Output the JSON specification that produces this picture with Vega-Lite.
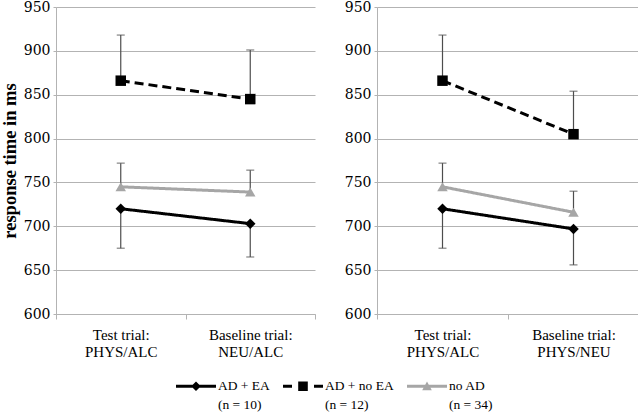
{
  "$schema": "https://vega.github.io/schema/vega-lite/v6.json",
  "background": "white",
  "padding": {"left": 0, "top": 0, "right": 2, "bottom": 0},
  "data": {"values": [
    {"panel": "A", "trial": "Test trial: PHYS/ALC", "group": "AD + EA (n = 10)", "rt": 720, "bound": 675},
    {"panel": "A", "trial": "Test trial: PHYS/ALC", "group": "AD + no EA (n = 12)", "rt": 866, "bound": 918},
    {"panel": "A", "trial": "Test trial: PHYS/ALC", "group": "no AD (n = 34)", "rt": 745, "bound": 772},
    {"panel": "A", "trial": "Baseline trial: NEU/ALC", "group": "AD + EA (n = 10)", "rt": 703, "bound": 665},
    {"panel": "A", "trial": "Baseline trial: NEU/ALC", "group": "AD + no EA (n = 12)", "rt": 845, "bound": 901},
    {"panel": "A", "trial": "Baseline trial: NEU/ALC", "group": "no AD (n = 34)", "rt": 739, "bound": 764},
    {"panel": "B", "trial": "Test trial: PHYS/ALC", "group": "AD + EA (n = 10)", "rt": 720, "bound": 675},
    {"panel": "B", "trial": "Test trial: PHYS/ALC", "group": "AD + no EA (n = 12)", "rt": 866, "bound": 918},
    {"panel": "B", "trial": "Test trial: PHYS/ALC", "group": "no AD (n = 34)", "rt": 745, "bound": 772},
    {"panel": "B", "trial": "Baseline trial: PHYS/NEU", "group": "AD + EA (n = 10)", "rt": 697, "bound": 656},
    {"panel": "B", "trial": "Baseline trial: PHYS/NEU", "group": "AD + no EA (n = 12)", "rt": 805, "bound": 854},
    {"panel": "B", "trial": "Baseline trial: PHYS/NEU", "group": "no AD (n = 34)", "rt": 716, "bound": 740}
  ]},
  "spacing": 28,
  "hconcat": [
    {
      "width": 259, "height": 307,
      "transform": [{"filter": "datum.panel === 'A'"}],
      "encoding": {
        "x": {"field": "trial", "type": "nominal", "sort": null, "title": null,
              "scale": {"paddingInner": 0, "paddingOuter": 0},
              "axis": {"labelAngle": 0, "tickBand": "extent", "labelFont": "Liberation Serif", "labelExpr": "datum.label ? [split(datum.label, ' ')[0] + ' ' + split(datum.label, ' ')[1], split(datum.label, ' ')[2]] : ''"}}
      },
      "layer": [
        {"mark": {"type": "line", "strokeWidth": 3},
         "encoding": {
           "y": {"field": "rt", "type": "quantitative", "title": "response time in ms",
                 "scale": {"domain": [600, 950], "nice": false, "zero": false},
                 "axis": {"values": [600, 650, 700, 750, 800, 850, 900, 950], "labelFont": "DejaVu Serif", "titleFont": "Liberation Serif"}},
           "color": {"field": "group", "type": "nominal", "scale": {"range": ["#000000", "#000000", "#a6a6a6"]},
             "legend": {
               "title": null, "orient": "none", "direction": "horizontal", "legendX": 120, "legendY": 359,
               "labelFont": "Liberation Serif", "labelFontSize": 13.5, "labelColor": "#000000",
               "symbolSize": 1600, "labelOffset": 2, "columnPadding": 13,
               "labelExpr": "[slice(datum.label, 0, indexof(datum.label, ' (')), slice(datum.label, indexof(datum.label, ' (') + 1)]",
               "encode": {
                 "symbols": {"update": {
                   "shape": {"signal": "indexof(datum.value, 'AD + EA') === 0 ? 'M-1,-0.075H1V0.075H-1Z M0,-0.24L0.24,0L0,0.24L-0.24,0Z' : indexof(datum.value, 'AD + no EA') === 0 ? 'M-1,-0.075H-0.55V0.075H-1Z M-0.24,-0.24H0.24V0.24H-0.24Z M0.55,-0.075H1V0.075H0.55Z' : 'M-1,-0.075H1V0.075H-1Z M0,-0.24L0.24,0.2L-0.24,0.2Z'"},
                   "fill": {"signal": "indexof(datum.value, 'no AD') === 0 ? '#a6a6a6' : '#000000'"},
                   "stroke": {"value": "transparent"},
                   "strokeWidth": {"value": 0},
                   "opacity": {"value": 1}
                 }},
                 "labels": {"update": {"lineHeight": {"value": 19}}}
               }
             }},
           "strokeDash": {"field": "group", "type": "nominal", "legend": null, "scale": {"range": [[1, 0], [9, 5], [1, 0]]}}
         }},
        {"mark": {"type": "rule", "color": "#4d4d4d", "strokeWidth": 1.2},
         "encoding": {"y": {"field": "rt", "type": "quantitative"}, "y2": {"field": "bound"}}},
        {"mark": {"type": "tick", "color": "#4d4d4d", "thickness": 1.2, "size": 8},
         "encoding": {"y": {"field": "bound", "type": "quantitative"}}},
        {"mark": {"type": "point", "filled": true, "opacity": 1, "size": 110},
         "encoding": {
           "y": {"field": "rt", "type": "quantitative"},
           "color": {"field": "group", "type": "nominal"},
           "shape": {"field": "group", "type": "nominal", "legend": null, "scale": {"range": ["diamond", "square", "triangle-up"]}}
         }}
      ]
    },
    {
      "width": 262, "height": 307,
      "transform": [{"filter": "datum.panel === 'B'"}],
      "encoding": {
        "x": {"field": "trial", "type": "nominal", "sort": null, "title": null,
              "scale": {"paddingInner": 0, "paddingOuter": 0},
              "axis": {"labelAngle": 0, "tickBand": "extent", "labelFont": "Liberation Serif", "labelExpr": "datum.label ? [split(datum.label, ' ')[0] + ' ' + split(datum.label, ' ')[1], split(datum.label, ' ')[2]] : ''"}}
      },
      "layer": [
        {"mark": {"type": "line", "strokeWidth": 3},
         "encoding": {
           "y": {"field": "rt", "type": "quantitative", "title": null,
                 "scale": {"domain": [600, 950], "nice": false, "zero": false},
                 "axis": {"values": [600, 650, 700, 750, 800, 850, 900, 950], "labelFont": "DejaVu Serif"}},
           "color": {"field": "group", "type": "nominal"},
           "strokeDash": {"field": "group", "type": "nominal", "legend": null, "scale": {"range": [[1, 0], [9, 5], [1, 0]]}}
         }},
        {"mark": {"type": "rule", "color": "#4d4d4d", "strokeWidth": 1.2},
         "encoding": {"y": {"field": "rt", "type": "quantitative"}, "y2": {"field": "bound"}}},
        {"mark": {"type": "tick", "color": "#4d4d4d", "thickness": 1.2, "size": 8},
         "encoding": {"y": {"field": "bound", "type": "quantitative"}}},
        {"mark": {"type": "point", "filled": true, "opacity": 1, "size": 110},
         "encoding": {
           "y": {"field": "rt", "type": "quantitative"},
           "color": {"field": "group", "type": "nominal"},
           "shape": {"field": "group", "type": "nominal", "legend": null, "scale": {"range": ["diamond", "square", "triangle-up"]}}
         }}
      ]
    }
  ],
  "resolve": {"scale": {"x": "independent", "y": "independent"}},
  "config": {
    "view": {"stroke": null},
    "font": "Liberation Serif",
    "axis": {
      "labelColor": "#000000",
      "domainColor": "#b3b3b3", "tickColor": "#b3b3b3", "gridColor": "#b3b3b3",
      "titleColor": "#000000"
    },
    "axisX": {"labelFontSize": 15, "labelLineHeight": 17, "labelPadding": 8, "tickSize": 5, "grid": false},
    "axisY": {"labelFontSize": 14, "labelPadding": 3, "tickSize": 3, "grid": true, "titleFontSize": 18.5, "titleFontWeight": "bold", "titlePadding": 4}
  }
}
